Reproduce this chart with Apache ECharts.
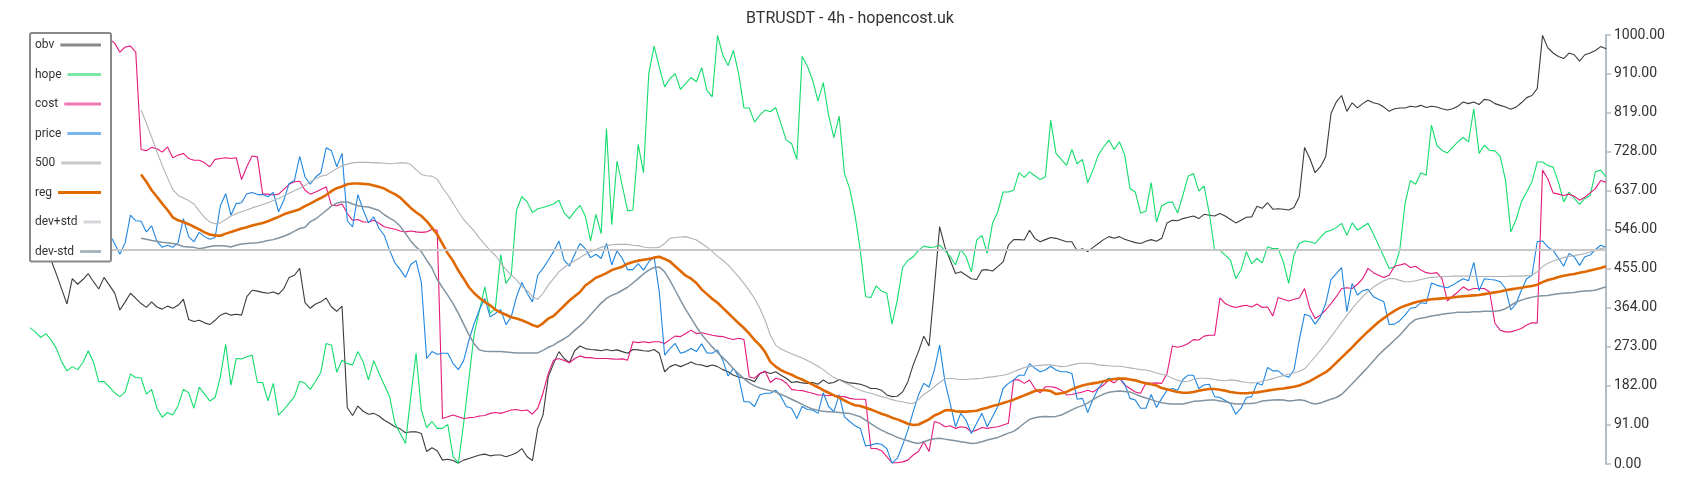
<!DOCTYPE html>
<html>
<head>
<meta charset="utf-8">
<script src="https://cdn.jsdelivr.net/npm/echarts@6/dist/echarts.min.js"></script>
<style>
  html, body { margin: 0; padding: 0; background: #fff; }
  #chart { width: 1700px; height: 500px; }
</style>
</head>
<body>
<div id="chart"></div>
<script>
// ---------------- DATA ----------------
const chartTitle = 'BTRUSDT - 4h - hopencost.uk';
const seriesNames = ['obv', 'hope', 'cost', 'price', '500', 'reg', 'dev+std', 'dev-std'];
const level500 = 500;
const yMin = 0, yMax = 1000, yStep = 91;

const obv = [
520,535,510,495,475,442,407,373,432,419,
430,444,425,408,435,417,399,359,378,398,
386,374,365,378,366,361,368,363,370,384,
337,332,335,329,325,335,347,352,347,349,
347,390,405,403,400,398,401,396,409,435,
440,456,376,363,373,378,387,366,356,368,
131,113,135,123,116,118,112,102,95,87,
82,73,75,75,71,29,38,31,9,11,
8,2,9,13,17,21,23,19,21,21,
17,21,26,36,17,8,83,114,203,234,
262,246,236,264,275,269,267,266,264,267,
264,266,262,258,267,266,264,263,267,258,
215,227,232,227,232,238,232,231,227,231,
227,220,215,207,203,200,197,192,211,215,
211,215,207,200,190,192,189,188,190,186,
196,188,190,197,192,189,188,186,182,176,
176,172,161,157,158,168,192,231,262,298,
275,410,553,506,475,444,448,440,432,430,
452,453,450,460,471,510,523,523,522,545,
526,518,523,528,526,522,518,518,497,502,
495,505,514,523,530,526,530,524,520,516,
514,519,523,519,526,562,568,567,572,575,
578,572,582,580,578,584,578,570,562,568,
575,576,601,596,609,594,595,594,592,598,
623,738,712,679,693,716,817,844,859,822,
842,830,840,848,842,839,832,822,828,830,
830,834,832,836,831,834,832,828,825,828,
834,844,840,844,838,850,848,840,836,832,
827,832,842,854,859,875,999,970,958,950,
945,958,954,939,954,958,964,973,968
];

const hope = [
318,308,295,304,289,269,238,217,227,220,
236,264,238,192,192,180,166,157,168,210,
201,201,163,174,130,109,120,114,136,174,
166,130,179,163,147,155,203,279,184,246,
245,250,254,190,190,147,188,114,127,142,
157,193,188,174,193,214,281,277,214,242,
234,231,262,238,196,241,211,184,157,95,
71,48,157,258,126,85,99,83,83,92,
17,2,95,200,304,359,413,351,363,488,
421,440,592,623,611,586,595,598,602,606,
615,586,572,589,603,578,520,582,537,782,
558,706,648,590,592,745,679,910,974,925,
879,898,910,873,887,901,891,924,871,856,
999,953,929,964,910,830,830,797,813,825,
821,831,793,755,747,710,950,927,894,846,
889,813,761,811,677,642,580,498,390,388,
415,403,398,326,382,458,475,483,498,508,
505,506,510,498,483,464,500,483,448,522,
533,491,561,588,634,634,638,679,668,681,
672,663,669,801,724,710,696,733,700,710,
656,685,720,739,755,733,751,720,642,634,
585,589,656,564,602,609,611,585,627,671,
677,636,648,584,498,498,487,475,432,453,
495,467,479,469,506,502,502,471,421,487,
514,520,518,514,528,541,545,551,561,533,
562,545,553,561,537,510,483,456,458,498,
607,661,652,679,673,790,743,731,725,738,
751,761,751,828,724,743,731,730,717,661,
541,570,611,634,658,704,704,696,692,657,
611,634,619,605,619,626,681,685,669
];

const cost = [
995,992,998,990,985,993,996,988,992,997,
990,986,994,991,988,990,981,960,972,974,
960,733,730,738,735,727,739,714,720,724,
712,708,708,702,693,710,712,714,712,714,
663,693,718,716,629,629,627,629,640,652,
658,659,638,629,634,640,646,603,602,606,
584,568,570,564,564,568,561,553,550,547,
543,541,543,541,540,541,547,545,106,110,
114,110,106,108,109,112,113,118,120,118,
122,126,127,124,126,116,130,165,211,242,
246,241,236,246,252,248,248,246,246,246,
245,244,245,242,285,283,285,283,285,285,
281,290,298,297,304,312,304,306,303,300,
298,297,293,290,293,290,203,200,211,217,
190,200,197,189,174,172,171,168,165,161,
161,159,161,158,157,153,151,151,151,36,
36,31,17,3,3,5,9,21,29,52,
29,99,95,87,89,83,87,85,75,79,
85,83,85,87,91,95,196,196,188,196,
176,166,180,180,178,172,161,162,165,168,
172,168,176,184,196,189,200,184,176,168,
165,189,188,189,188,211,275,272,275,281,
290,289,298,300,300,387,374,368,365,368,
370,366,373,365,366,345,388,384,380,384,
387,409,363,339,347,359,374,390,409,411,
409,419,432,456,446,440,435,440,461,464,
467,458,461,452,446,444,446,432,380,391,
401,413,405,409,409,409,401,328,312,308,
308,312,316,324,329,329,685,665,632,629,
626,629,624,615,622,632,642,661,657
];

const price = [
545,552,538,560,548,535,552,566,540,528,
545,556,530,548,540,536,514,489,516,580,
567,566,541,555,519,505,510,505,516,572,
530,518,540,530,524,528,602,630,580,607,
609,630,633,628,628,623,633,588,615,654,
661,717,669,652,669,679,737,730,693,724,
567,553,628,592,562,576,549,533,498,469,
453,435,465,474,423,246,262,256,258,258,
234,220,241,289,328,360,386,343,351,360,
325,343,390,423,398,378,440,456,475,495,
520,475,461,489,514,502,481,489,479,514,
464,497,479,453,453,467,452,471,483,400,
254,269,281,258,262,269,262,280,259,258,
266,242,205,223,203,145,145,134,161,165,
165,172,157,134,130,106,134,127,126,118,
166,134,122,161,110,99,89,83,42,44,
48,46,36,2,13,44,79,122,161,188,
179,219,277,192,141,87,118,102,71,95,
118,87,110,134,176,188,196,207,207,234,
223,215,219,228,219,215,215,211,151,153,
120,151,176,192,200,197,201,186,153,149,
130,130,162,132,153,172,176,172,197,207,
207,176,184,186,157,155,148,141,116,130,
155,157,188,184,225,217,217,207,202,219,
289,349,345,326,343,374,430,444,458,355,
421,394,404,407,390,384,378,325,326,334,
347,363,365,376,374,422,417,413,411,417,
425,432,427,470,404,432,430,429,425,409,
359,374,405,432,440,518,520,506,498,480,
461,491,483,463,483,487,500,510,505
];

const reg = [
null,null,null,null,null,null,null,null,null,null,
null,null,null,null,null,null,null,null,null,null,
null,675,658,638,623,607,592,575,568,564,
559,553,547,540,535,533,532,537,541,545,
549,552,556,559,562,566,571,576,582,586,
590,594,601,607,614,620,627,636,643,647,
652,654,654,653,652,649,646,642,635,629,
621,609,597,587,578,566,551,535,513,491,
473,451,432,412,398,387,378,370,360,353,
348,342,339,335,330,324,320,328,339,345,
357,369,381,391,401,416,425,434,439,445,
452,456,460,467,471,474,476,478,481,483,
478,472,461,450,439,432,422,407,396,385,
376,364,352,340,328,317,304,289,277,261,
238,227,219,213,208,202,197,191,185,179,
172,166,160,155,148,142,137,135,131,127,
122,117,113,108,104,99,94,91,92,98,
104,113,118,125,126,123,122,122,123,124,
128,131,135,138,142,146,150,155,160,165,
170,172,172,170,163,165,168,174,179,183,
186,188,190,193,196,198,199,199,197,195,
191,188,186,183,177,174,171,168,166,166,
168,171,173,175,175,173,171,168,166,165,
165,166,167,169,171,173,175,176,178,180,
183,188,193,200,207,214,224,236,248,260,
272,285,297,309,320,331,340,349,357,364,
369,373,377,380,382,384,385,386,387,388,
390,391,392,393,394,396,398,400,402,405,
407,409,411,413,415,418,424,429,432,436,
439,441,443,446,448,451,454,457,461
];

const devPlus = [
null,null,null,null,null,null,null,null,null,null,
null,null,null,null,null,null,null,null,null,null,
null,825,795,762,728,696,667,640,626,620,
614,606,590,575,564,560,562,570,578,584,
588,592,597,601,605,609,614,619,625,631,
637,643,649,658,665,671,673,681,689,695,
699,702,703,703,703,702,702,701,700,701,
702,702,698,686,675,672,671,664,644,627,
608,588,570,556,543,526,512,498,486,469,
453,441,429,414,404,390,384,398,417,432,
448,458,467,474,481,489,495,500,505,509,
511,512,512,512,510,509,506,504,504,505,
514,526,528,529,530,526,522,514,506,495,
484,475,464,450,436,421,404,386,363,335,
300,277,268,262,257,252,247,241,235,228,
220,210,202,196,190,184,177,172,168,165,
161,157,154,150,147,145,142,141,150,162,
170,180,190,198,200,198,197,197,198,199,
200,202,203,205,207,210,215,220,225,227,
229,230,231,231,229,227,228,231,234,235,
235,234,231,230,229,228,228,226,224,222,
220,219,216,212,209,206,200,195,192,193,
197,200,200,199,197,195,194,196,195,192,
190,189,190,193,196,199,203,206,209,212,
216,222,236,250,265,280,297,313,330,346,
362,377,390,402,412,420,427,432,432,428,
425,425,427,430,433,435,436,437,437,438,
438,438,438,437,437,437,437,437,437,437,
438,438,438,439,440,448,460,468,473,477,
481,484,486,488,490,494,498,502,505
];

const devMinus = [
null,null,null,null,null,null,null,null,null,null,
null,null,null,null,null,null,null,null,null,null,
null,526,524,521,519,517,516,514,511,507,
506,505,502,504,507,509,509,508,506,510,
513,514,515,516,518,521,523,527,531,536,
543,549,552,565,571,581,591,601,608,611,
611,606,602,600,599,595,591,581,573,566,
554,537,520,506,495,475,457,430,411,393,
374,351,326,301,280,266,263,262,262,262,
261,260,259,259,259,259,259,265,272,277,
285,292,300,312,322,334,348,362,375,386,
393,398,405,412,422,432,443,452,458,459,
448,428,405,382,360,340,320,302,287,273,
260,248,236,222,210,199,189,182,177,174,
171,168,162,157,151,145,139,133,128,125,
123,122,121,120,119,118,114,110,102,94,
86,79,73,68,62,58,54,50,48,52,
56,59,60,58,56,54,52,50,48,49,
52,56,59,62,67,72,76,85,95,104,
108,110,111,110,111,114,120,126,132,136,
142,150,157,163,167,169,170,169,168,163,
158,154,150,146,143,141,140,140,140,143,
146,147,148,149,149,147,145,142,140,140,
141,141,143,147,148,149,150,149,147,148,
150,148,143,140,142,147,151,155,162,174,
187,200,213,226,240,254,266,277,289,300,
314,328,337,340,342,345,347,349,351,352,
354,354,354,355,355,356,356,356,358,362,
370,377,382,386,389,391,392,393,395,397,
398,399,400,402,403,404,405,409,413
];

const categories = hope.map((_, i) => i);

// ---------------- STYLE ----------------
const lineColors = {
  'obv': '#3c3c3c', 'hope': '#14dc6c', 'cost': '#e6197c', 'price': '#1f86e0',
  '500': '#c8c8c8', 'reg': '#e06800', 'dev+std': '#adb3b8', 'dev-std': '#8193a0'
};
const legendBarColors = {
  'obv': '#8a8a8a', 'hope': '#7de6a6', 'cost': '#ef78b4', 'price': '#78b4ee',
  '500': '#c8c8c8', 'reg': '#e06c00', 'dev+std': '#d3d7db', 'dev-std': '#a8b6bf'
};
const lineWidths = {
  'obv': 1.1, 'hope': 1.1, 'cost': 1.1, 'price': 1.1,
  '500': 2, 'reg': 2.6, 'dev+std': 1.1, 'dev-std': 1.5
};
const FONT = 'Roboto, "Noto Sans", sans-serif';
const LEGEND_FONT_SIZE = 12;
const LEGEND_ITEM_W = 66;
const LEGEND_GAP = 6;

const measureCtx = document.createElement('canvas').getContext('2d');
measureCtx.font = LEGEND_FONT_SIZE + 'px Roboto';
const rich = {
  t: { fontSize: LEGEND_FONT_SIZE, fontFamily: FONT, color: '#333', lineHeight: 14 },
  s: { width: LEGEND_GAP, height: 3 }
};
seriesNames.forEach((n, k) => {
  const w = measureCtx.measureText(n).width;
  rich['b' + k] = {
    width: Math.max(8, LEGEND_ITEM_W - w - LEGEND_GAP),
    height: 3,
    backgroundColor: legendBarColors[n],
    verticalAlign: 'middle'
  };
});

const dataByName = { 'obv': obv, 'hope': hope, 'cost': cost, 'price': price,
  'reg': reg, 'dev+std': devPlus, 'dev-std': devMinus };

const series = seriesNames.map(n => {
  const base = {
    name: n, type: 'line', showSymbol: false, symbol: 'none', z: 2,
    lineStyle: { color: lineColors[n], width: lineWidths[n] },
    itemStyle: { color: lineColors[n] },
    emphasis: { disabled: true }
  };
  if (n === '500') {
    base.z = 1;
    base.data = [];
    base.markLine = {
      silent: true, symbol: 'none', label: { show: false },
      lineStyle: { color: lineColors[n], width: lineWidths[n], type: 'solid' },
      emphasis: { disabled: true },
      data: [{ yAxis: level500 }]
    };
  } else {
    base.data = dataByName[n];
  }
  return base;
});

const chart = echarts.init(document.getElementById('chart'), null, { renderer: 'canvas' });
chart.setOption({
  animation: false,
  backgroundColor: '#fff',
  title: {
    text: chartTitle, left: 'center', top: 6,
    textStyle: { fontSize: 16, fontWeight: 'normal', color: '#333', fontFamily: FONT }
  },
  legend: {
    orient: 'vertical', left: 30, top: 33, z: 20, zlevel: 0,
    data: seriesNames,
    selectedMode: false,
    itemWidth: 0, itemHeight: 14, itemGap: 15.5,
    icon: 'rect', itemStyle: { opacity: 0 },
    padding: [5, 10, 3, 0],
    backgroundColor: '#fff', borderColor: '#888', borderWidth: 2, borderRadius: 2,
    textStyle: { rich: rich },
    formatter: name => '{t|' + name + '}{s|}{b' + seriesNames.indexOf(name) + '|}'
  },
  grid: { left: 30, right: 94, top: 35, bottom: 36, containLabel: false },
  xAxis: { type: 'category', data: categories, boundaryGap: false, show: false },
  yAxis: {
    type: 'value', position: 'right', min: yMin, max: yMax, interval: yStep,
    axisLine: { show: true, lineStyle: { color: '#b3bec6', width: 2 } },
    axisTick: { show: true, length: 5, lineStyle: { color: '#b3bec6', width: 1.5 } },
    splitLine: { show: false },
    axisLabel: { formatter: v => v.toFixed(2), fontSize: 14, color: '#333', fontFamily: FONT, margin: 8 }
  },
  series: series
});
</script>
</body>
</html>
